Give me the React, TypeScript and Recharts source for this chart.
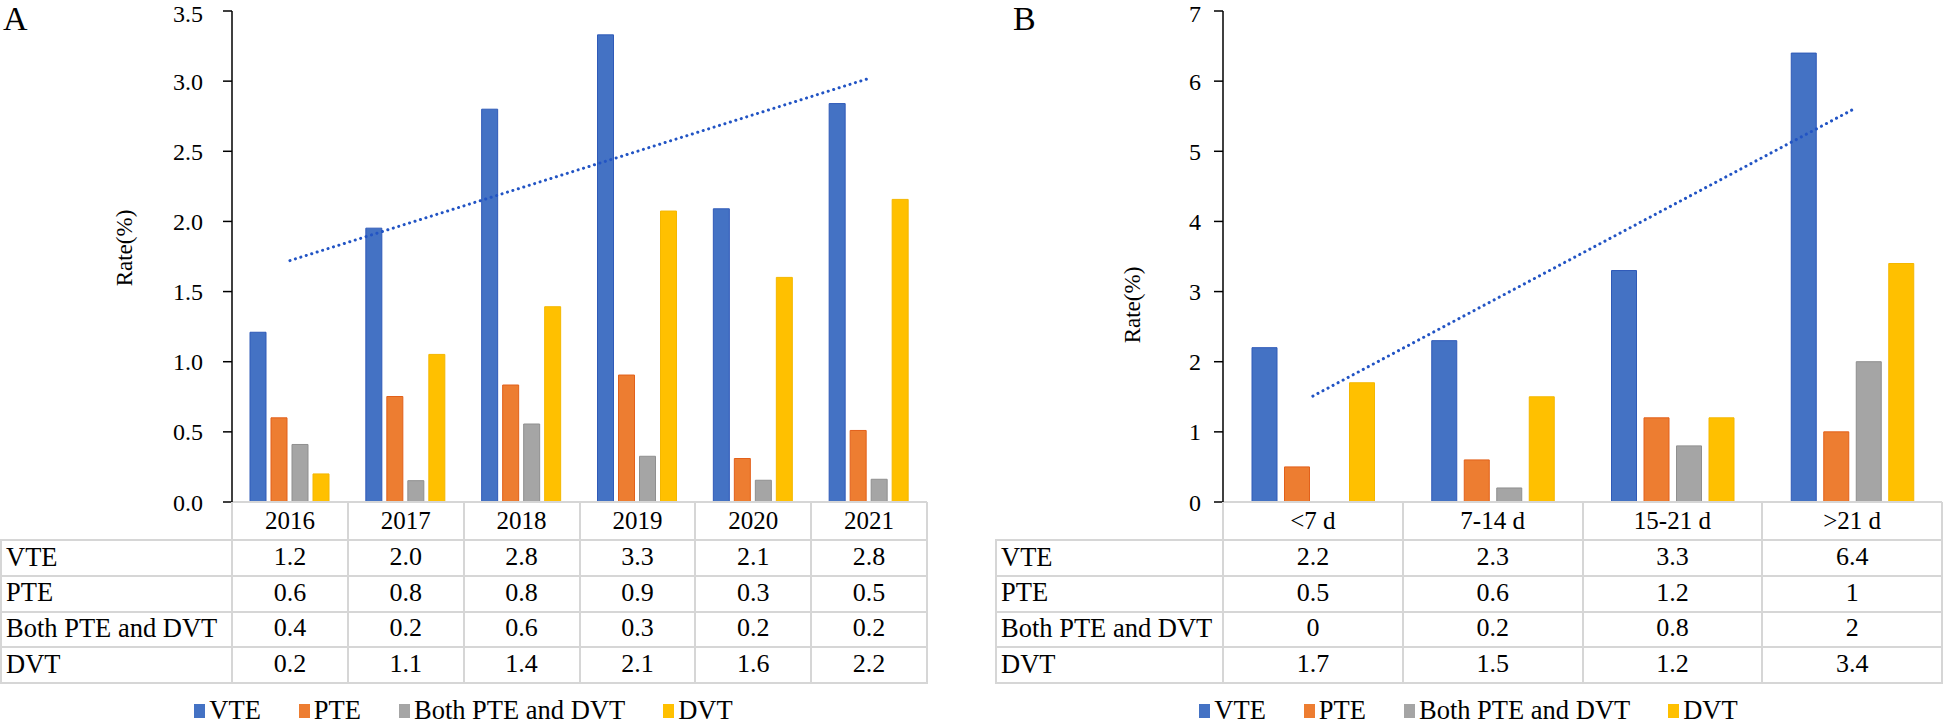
import { ComposedChart, Bar, Line, XAxis, YAxis, Label } from 'recharts'

const FONT = "'Liberation Serif', 'Times New Roman', serif"

const seriesNames = ['VTE', 'PTE', 'Both PTE and DVT', 'DVT']
const seriesKeys = ['vte', 'pte', 'both', 'dvt']
const fills = ['#4472C4', '#ED7D31', '#A5A5A5', '#FFC000']
const strokes = ['#2F5AB8', '#E2601A', '#8F8F8F', '#F4B700']

// Panel A: by year
const yearsA = ['2016', '2017', '2018', '2019', '2020', '2021']
const vteA = [1.21, 1.952, 2.8, 3.33, 2.09, 2.84]
const pteA = [0.6, 0.752, 0.834, 0.905, 0.31, 0.51]
const bothA = [0.41, 0.152, 0.556, 0.326, 0.155, 0.162]
const dvtA = [0.2, 1.052, 1.392, 2.074, 1.601, 2.157]
const ticksA = [0, 0.5, 1, 1.5, 2, 2.5, 3, 3.5]

// Panel B: by length of stay
const staysB = ['<7 d', '7-14 d', '15-21 d', '>21 d']
const vteB = [2.2, 2.3, 3.3, 6.4]
const pteB = [0.5, 0.6, 1.2, 1]
const bothB = [0, 0.2, 0.8, 2]
const dvtB = [1.7, 1.5, 1.2, 3.4]
const ticksB = [0, 1, 2, 3, 4, 5, 6, 7]

// layout shared by both panels
const TOP = 11
const ZERO_Y = 502
const HEADER_BOTTOM = 540
const ROW_H = 35.75
const Y_AXIS_W = 60
const X_AXIS_H = 38
const GRID = '#D6D6D6'
const TREND = '#2254C4'

// least squares fit over category index, like an Excel linear trendline
function linearFit(ys: number[]) {
  const n = ys.length
  const mx = (n + 1) / 2
  const my = ys.reduce((a, b) => a + b, 0) / n
  let sxy = 0
  let sxx = 0
  ys.forEach((y, i) => {
    const dx = i + 1 - mx
    sxy += dx * (y - my)
    sxx += dx * dx
  })
  const slope = sxy / sxx
  return ys.map((_, i) => my + slope * (i + 1 - mx))
}

interface PanelProps {
  letter: string
  letterX: number
  left: number
  width: number
  axisX: number
  categories: string[]
  values: number[][]
  ticks: number[]
  fmtTick: (v: number) => string
  fmtCell: (v: number) => string
  barSize: number
  barGap: number
  tickMargin: number
  labelX: number
  labelY: number
}

function HLine({ x1, x2, y }: { x1: number; x2: number; y: number }) {
  return <div style={{ position: 'absolute', left: x1, top: y - 1, width: x2 - x1, height: 2, background: GRID }} />
}

function VLine({ x, y1, y2 }: { x: number; y1: number; y2: number }) {
  return <div style={{ position: 'absolute', left: x - 1, top: y1, width: 2, height: y2 - y1, background: GRID }} />
}

function Panel(p: PanelProps) {
  const n = p.categories.length
  const band = (p.width - p.axisX) / n
  const trend = linearFit(p.values[0])
  const data = p.categories.map((name, i) => {
    const row: Record<string, string | number> = { name, trend: trend[i] }
    seriesKeys.forEach((k, s) => {
      row[k] = p.values[s][i]
    })
    return row
  })
  const tableBottom = HEADER_BOTTOM + seriesNames.length * ROW_H
  const max = p.ticks[p.ticks.length - 1]

  return (
    <div style={{ position: 'absolute', left: p.left, top: 0, width: p.width + 3, height: 725 }}>
      <ComposedChart
        width={p.width + 3}
        height={725}
        data={data}
        margin={{ top: TOP, right: 3, bottom: 725 - ZERO_Y - X_AXIS_H, left: p.axisX - Y_AXIS_W }}
        barSize={p.barSize}
        barGap={p.barGap}
      >
        <XAxis
          dataKey="name"
          height={X_AXIS_H}
          interval={0}
          tickLine={false}
          tickSize={0}
          tickMargin={9.5}
          axisLine={{ stroke: GRID, strokeWidth: 2 }}
          tick={{ fontSize: 25, fill: '#000', fontFamily: FONT }}
        />
        <YAxis
          width={Y_AXIS_W}
          domain={[0, max]}
          ticks={p.ticks}
          tickFormatter={p.fmtTick}
          tickSize={9}
          tickMargin={p.tickMargin}
          axisLine={{ stroke: '#000', strokeWidth: 1.5 }}
          tickLine={{ stroke: '#000', strokeWidth: 1.5 }}
          tick={{ fontSize: 24, fill: '#000', fontFamily: FONT }}
        >
          <Label
            content={() => (
              <text
                x={p.labelX}
                y={p.labelY}
                transform={`rotate(-90 ${p.labelX} ${p.labelY})`}
                textAnchor="middle"
                dominantBaseline="central"
                fontSize={23}
                fontFamily={FONT}
                fill="#000"
              >
                Rate(%)
              </text>
            )}
          />
        </YAxis>
        {seriesKeys.map((k, s) => (
          <Bar
            key={k}
            dataKey={k}
            name={seriesNames[s]}
            fill={fills[s]}
            stroke={strokes[s]}
            strokeWidth={1}
            isAnimationActive={false}
          />
        ))}
        <Line
          dataKey="trend"
          stroke={TREND}
          strokeWidth={3}
          strokeDasharray="0.1 5.6"
          strokeLinecap="round"
          dot={false}
          activeDot={false}
          legendType="none"
          isAnimationActive={false}
        />
      </ComposedChart>

      {/* data table under the axis */}
      <div style={{ position: 'absolute', left: 0, top: 0, width: p.width + 3, height: 725, pointerEvents: 'none', fontFamily: FONT, color: '#000' }}>
        <div style={{ position: 'absolute', left: p.letterX, top: 0, fontSize: 34, lineHeight: '38px' }}>{p.letter}</div>
        {seriesNames.map((_, r) => (
          <HLine key={`h${r}`} x1={0} x2={p.width + 1} y={HEADER_BOTTOM + r * ROW_H} />
        ))}
        <HLine x1={0} x2={p.width + 1} y={tableBottom} />
        <VLine x={1} y1={HEADER_BOTTOM} y2={tableBottom} />
        {Array.from({ length: n + 1 }, (_, c) => (
          <VLine key={`v${c}`} x={p.axisX + c * band} y1={ZERO_Y} y2={tableBottom} />
        ))}
        {seriesNames.map((label, r) => (
          <div key={label}>
            <div
              style={{
                position: 'absolute',
                left: 6,
                top: HEADER_BOTTOM + r * ROW_H - 1,
                height: ROW_H,
                display: 'flex',
                alignItems: 'center',
                fontSize: 26.5,
                lineHeight: 1,
                whiteSpace: 'nowrap',
              }}
            >
              {label}
            </div>
            {p.values[r].map((v, c) => (
              <div
                key={c}
                style={{
                  position: 'absolute',
                  left: p.axisX + c * band,
                  width: band,
                  top: HEADER_BOTTOM + r * ROW_H - 1,
                  height: ROW_H,
                  display: 'flex',
                  alignItems: 'center',
                  justifyContent: 'center',
                  fontSize: 26,
                  lineHeight: 1,
                }}
              >
                {p.fmtCell(v)}
              </div>
            ))}
          </div>
        ))}

        {/* legend */}
        <div
          style={{
            position: 'absolute',
            left: 0,
            width: p.width,
            top: 697,
            height: 26,
            display: 'flex',
            justifyContent: 'center',
            alignItems: 'center',
            gap: 38,
            fontSize: 26.5,
            lineHeight: '26px',
          }}
        >
          {seriesNames.map((label, s) => (
            <div key={label} style={{ display: 'flex', alignItems: 'center' }}>
              <span style={{ display: 'inline-block', width: 11, height: 14, background: fills[s], marginRight: 4, marginTop: 2 }} />
              <span style={{ whiteSpace: 'nowrap' }}>{label}</span>
            </div>
          ))}
        </div>
      </div>
    </div>
  )
}

export default function App() {
  return (
    <div style={{ position: 'absolute', left: 0, top: 0, width: 1944, height: 725, background: '#fff', overflow: 'hidden' }}>
      <Panel
        letter="A"
        letterX={3}
        left={0}
        width={927}
        axisX={232}
        categories={yearsA}
        values={[vteA, pteA, bothA, dvtA]}
        ticks={ticksA}
        fmtTick={(v) => v.toFixed(1)}
        fmtCell={(v) => v.toFixed(1)}
        barSize={16}
        barGap={5}
        tickMargin={20}
        labelX={124}
        labelY={248}
      />
      <Panel
        letter="B"
        letterX={18}
        left={995}
        width={947}
        axisX={228}
        categories={staysB}
        values={[vteB, pteB, bothB, dvtB]}
        ticks={ticksB}
        fmtTick={(v) => String(v)}
        fmtCell={(v) => String(v)}
        barSize={25}
        barGap={7.5}
        tickMargin={13}
        labelX={137}
        labelY={305}
      />
    </div>
  )
}
